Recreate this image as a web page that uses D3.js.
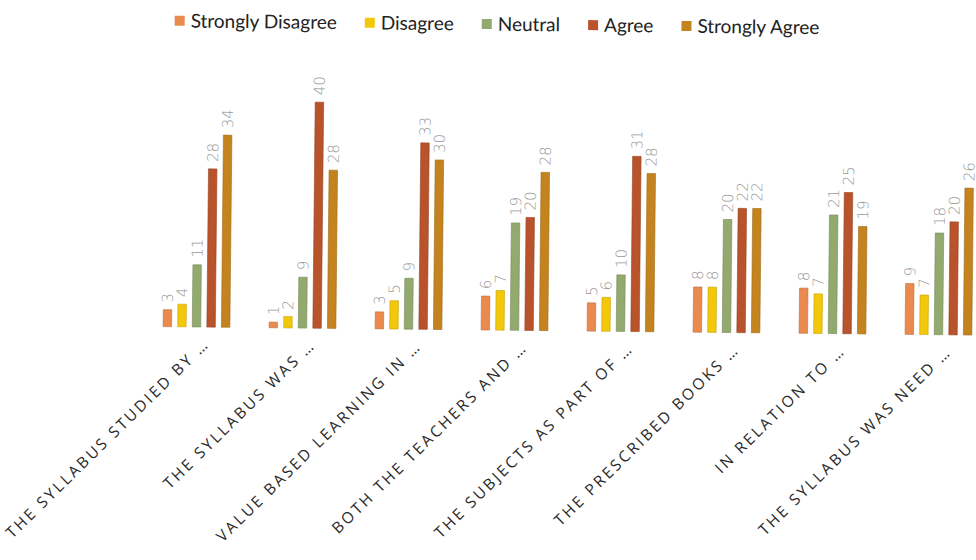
<!DOCTYPE html>
<html>
<head>
<meta charset="utf-8">
<script src="https://cdn.jsdelivr.net/npm/d3@7"></script>
<style>
  html, body { margin: 0; padding: 0; background: #fff; }
  svg { display: block; }
</style>
</head>
<body>
<svg id="chart" width="976" height="560"></svg>
<script>
const categories = [
  "THE SYLLABUS STUDIED BY …",
  "THE SYLLABUS WAS …",
  "VALUE BASED LEARNING IN …",
  "BOTH THE TEACHERS AND …",
  "THE SUBJECTS AS PART OF …",
  "THE PRESCRIBED BOOKS …",
  "IN RELATION TO …",
  "THE SYLLABUS WAS NEED …"
];
const seriesNames = ["Strongly Disagree", "Disagree", "Neutral", "Agree", "Strongly Agree"];
const stronglyDisagree = [3, 1, 3, 6, 5, 8, 8, 9];
const disagree         = [4, 2, 5, 7, 6, 8, 7, 7];
const neutral          = [11, 9, 9, 19, 10, 20, 21, 18];
const agree            = [28, 40, 33, 20, 31, 22, 25, 20];
const stronglyAgree    = [34, 28, 30, 28, 28, 22, 19, 26];
const seriesColors = ["#EA8A4E", "#F3C80A", "#93AA6E", "#B9532B", "#C5831F"];

const seriesValues = [stronglyDisagree, disagree, neutral, agree, stronglyAgree];

const svg = d3.select("#chart");
const W = 976, H = 560;
const root = svg.append("g").attr("transform", `rotate(0.6 ${W/2} ${H/2})`);

const x0 = d3.scaleBand().domain(categories).range([144, 992])
  .paddingInner(0.37).paddingOuter(0.185);
const x1 = d3.scaleBand().domain(seriesNames).range([0, x0.bandwidth()])
  .paddingInner(0.42).paddingOuter(0);
const y = d3.scaleLinear().domain([0, 40]).range([330, 104]);
const color = d3.scaleOrdinal().domain(seriesNames).range(seriesColors);

const data = categories.map((c, i) => ({
  cat: c,
  vals: seriesNames.map((s, j) => ({ s, v: seriesValues[j][i] }))
}));

const groups = root.append("g").selectAll("g").data(data).join("g")
  .attr("transform", d => `translate(${x0(d.cat)},0)`);

groups.selectAll("rect").data(d => d.vals).join("rect")
  .attr("x", d => x1(d.s))
  .attr("y", d => y(d.v))
  .attr("width", x1.bandwidth())
  .attr("height", d => y(0) - y(d.v))
  .attr("fill", d => color(d.s))
  .attr("stroke", d => d3.color(color(d.s)).darker(0.6))
  .attr("stroke-width", 0.6);

groups.selectAll("text.val").data(d => d.vals).join("text")
  .attr("class", "val")
  .attr("transform", d => `translate(${x1(d.s) + x1.bandwidth()/2},${y(d.v) - 7}) rotate(-90)`)
  .attr("dy", "0.35em")
  .attr("text-anchor", "start")
  .attr("font-family", "DejaVu Sans, sans-serif")
  .attr("font-weight", 200)
  .attr("font-size", 15)
  .attr("fill", "#9a9a9a")
  .text(d => d.v);

// x axis labels
const xAxis = d3.axisBottom(x0).tickSize(0).tickPadding(0);
const axisG = root.append("g").attr("transform", `translate(0,${y(0) + 12})`).call(xAxis);
axisG.select(".domain").remove();
axisG.selectAll("text")
  .attr("font-family", "Open Sans, sans-serif")
  .attr("font-size", 15.5)
  .attr("letter-spacing", "2.6px")
  .attr("fill", "#2a2a2a")
  .attr("text-anchor", "end")
  .attr("dy", 0)
  .attr("transform", "translate(14,6) rotate(-45)");

// legend
const legend = root.append("g").attr("transform", "translate(172,24)");
let lx = 0;
seriesNames.forEach((s, i) => {
  const g = legend.append("g").attr("transform", `translate(${lx},0)`);
  g.append("rect").attr("x", 0).attr("y", -5).attr("width", 10).attr("height", 10)
    .attr("fill", color(s));
  const t = g.append("text").attr("x", 16).attr("y", 0).attr("dy", "0.35em")
    .attr("font-family", "Lato, sans-serif").attr("font-size", 19).attr("fill", "#222")
    .text(s);
  lx += 16 + t.node().getComputedTextLength() + 28;
});
</script>
</body>
</html>
